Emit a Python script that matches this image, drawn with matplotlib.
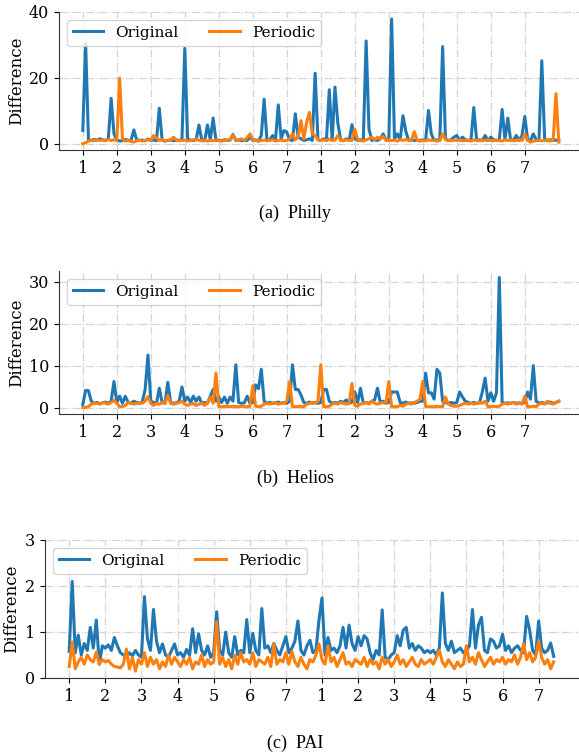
import numpy as np
import matplotlib
matplotlib.use("Agg")
import matplotlib.pyplot as plt

plt.rcParams['font.family'] = ['DejaVu Serif']

samples_per_day = 12
day_labels = ['1', '2', '3', '4', '5', '6', '7', '1', '2', '3', '4', '5', '6', '7']
series_names = ['Original', 'Periodic']
captions = ['(a)  Philly', '(b)  Helios', '(c)  PAI']

philly_original = [
    4.0, 30.5, 1.2, 1.0, 1.3, 1.1, 1.5, 1.2, 1.0, 1.5, 13.8, 3.0,
    1.2, 0.8, 1.0, 1.3, 1.1, 0.9, 4.2, 1.2, 1.0, 1.1, 0.9, 1.4,
    1.0, 1.2, 0.9, 10.8, 1.1, 0.8, 1.0, 1.2, 0.9, 1.1, 1.0, 1.3,
    29.0, 1.5, 1.1, 1.0, 1.2, 5.7, 1.0, 0.9, 5.7, 1.2, 7.8, 1.0,
    1.1, 0.9, 1.2, 1.0, 1.1, 2.8, 1.0, 1.2, 0.9, 1.1, 1.0, 2.0,
    1.0, 1.2, 0.8, 2.5, 13.5, 1.0, 1.2, 2.5, 1.0, 11.8, 1.5, 4.0,
    3.5, 1.2, 1.0, 9.1, 2.0, 1.5, 1.0, 1.2, 1.5, 1.0, 21.4, 1.2,
    1.0, 1.5, 1.2, 16.4, 1.0, 17.2, 6.3, 1.2, 1.0, 1.5, 1.0, 5.8,
    1.5, 1.0, 1.2, 1.0, 31.2, 4.5, 1.0, 1.2, 1.0, 1.5, 3.0, 1.2,
    1.0, 37.9, 1.5, 3.0, 1.2, 8.5, 3.8, 1.0, 1.2, 1.0, 1.1, 1.0,
    1.2, 1.0, 10.1, 3.0, 1.0, 1.2, 1.0, 29.5, 1.5, 1.0, 1.2, 2.0,
    2.5, 1.0, 2.0, 1.2, 1.0, 1.1, 11.0, 1.0, 1.2, 1.0, 2.5, 1.0,
    2.0, 1.2, 1.0, 1.1, 10.4, 1.2, 7.8, 1.0, 1.2, 2.5, 1.0, 2.5,
    8.3, 1.2, 1.0, 3.0, 1.2, 1.0, 25.2, 1.5, 1.0, 1.2, 1.0, 1.1,
    1.0]
philly_periodic = [
    0.0, 0.3, 0.8, 1.0, 0.9, 1.2, 1.0, 1.1, 0.9, 1.3, 1.0, 1.2,
    1.0, 19.9, 1.5, 0.8, 1.0, 0.7, 0.5, 0.9, 1.1, 0.8, 1.0, 1.2,
    1.0, 2.5, 1.8, 1.0, 1.2, 0.9, 1.0, 1.1, 2.0, 1.2, 0.9, 1.0,
    1.1, 0.8, 1.0, 1.2, 1.5, 1.0, 0.9, 1.1, 0.8, 1.0, 0.9, 1.2,
    1.0, 0.8, 1.0, 1.1, 1.3, 2.5, 1.2, 1.0, 1.5, 1.0, 1.8, 3.0,
    1.2, 1.0, 0.8, 1.0, 1.1, 0.9, 1.0, 1.2, 0.8, 1.0, 1.1, 0.9,
    1.0, 1.5, 3.0, 1.2, 2.0, 7.0, 1.5, 6.5, 9.5, 3.0, 2.5, 1.2,
    1.0, 1.2, 0.9, 1.5, 1.0, 1.1, 2.5, 1.0, 0.9, 1.2, 1.0, 1.0,
    4.4, 1.2, 1.0, 0.8, 1.2, 1.5, 2.0, 1.2, 2.0, 1.5, 2.2, 1.0,
    1.2, 1.0, 1.1, 0.8, 1.2, 1.0, 1.3, 1.1, 1.0, 3.7, 1.0, 0.8,
    1.0, 0.9, 1.2, 1.0, 1.1, 0.8, 1.0, 3.0, 1.2, 1.0, 0.9, 1.1,
    1.0, 1.2, 0.9, 1.0, 1.1, 0.8, 1.2, 1.0, 0.9, 1.1, 1.0, 1.2,
    1.0, 0.9, 1.1, 1.0, 0.8, 1.2, 1.0, 1.1, 0.9, 1.0, 1.2, 1.0,
    3.0, 1.0, 0.5, 0.8, 1.0, 1.1, 0.9, 1.0, 1.2, 0.8, 1.0, 15.2,
    0.5]

helios_original = [
    0.7, 4.1, 4.0, 1.5, 1.0, 1.2, 0.9, 1.1, 1.3, 1.0, 1.5, 6.2,
    1.2, 2.7, 1.0, 2.7, 1.2, 1.0, 1.5, 1.2, 1.0, 1.3, 4.3, 12.5,
    1.5, 1.2, 1.0, 4.6, 1.2, 1.0, 6.0, 1.2, 1.0, 1.1, 1.5, 4.9,
    1.5, 2.5, 1.2, 2.7, 1.5, 2.5, 1.0, 1.2, 1.0, 2.7, 4.3, 1.5,
    2.5, 1.2, 2.5, 1.0, 2.5, 1.5, 10.2, 1.2, 1.0, 1.1, 2.7, 1.0,
    1.2, 5.4, 4.5, 9.1, 1.5, 1.0, 1.2, 1.0, 1.1, 1.3, 1.0, 1.2,
    1.0, 1.5, 10.2, 4.3, 4.3, 3.0, 1.2, 1.0, 1.3, 1.0, 1.2, 1.0,
    1.2, 4.3, 4.3, 1.5, 1.0, 1.2, 1.0, 1.5, 1.2, 1.8, 1.0, 1.3,
    3.7, 1.2, 4.6, 1.0, 1.2, 1.0, 1.5, 1.8, 4.6, 1.2, 1.5, 1.0,
    1.2, 3.7, 3.7, 3.7, 1.2, 1.0, 1.3, 1.0, 1.1, 1.0, 1.2, 1.5,
    1.5, 8.2, 3.5, 3.5, 2.0, 9.1, 8.2, 1.5, 1.2, 1.0, 1.2, 1.0,
    1.2, 3.7, 2.5, 1.5, 1.2, 1.0, 1.2, 1.0, 1.1, 3.7, 7.0, 1.5,
    3.5, 1.5, 3.5, 31.0, 1.2, 1.0, 1.1, 1.0, 1.2, 1.0, 1.1, 1.0,
    1.2, 3.7, 2.0, 10.0, 1.5, 1.0, 1.2, 1.0, 1.1, 1.3, 1.0, 1.2,
    1.5]
helios_periodic = [
    0.0, 0.0, 0.2, 0.8, 1.0, 1.0, 0.8, 1.2, 1.0, 0.8, 1.2, 1.7,
    1.0, 0.2, 0.2, 0.5, 1.2, 1.0, 0.8, 1.0, 1.2, 1.0, 1.5, 2.6,
    1.0, 0.5, 1.0, 0.8, 1.2, 1.0, 2.8, 1.0, 0.8, 1.0, 1.2, 1.5,
    0.8, 0.5, 0.8, 1.0, 0.5, 0.8, 1.0, 0.5, 1.2, 2.5, 1.0, 8.2,
    0.2, 0.2, 0.3, 0.2, 0.2, 0.3, 0.2, 0.2, 0.3, 0.2, 0.2, 0.3,
    5.2, 0.3, 0.2, 0.3, 0.8, 1.0, 0.8, 1.0, 1.2, 0.8, 1.0, 1.0,
    1.5, 6.2, 0.2, 0.2, 0.2, 0.3, 0.2, 0.8, 1.0, 1.2, 1.0, 1.5,
    10.2, 0.2, 0.2, 0.3, 0.8, 1.0, 0.8, 1.2, 1.0, 0.8, 1.0, 5.7,
    0.5, 0.3, 0.8, 1.0, 1.2, 0.8, 1.5, 1.0, 0.8, 1.0, 1.2, 1.0,
    6.2, 0.2, 0.2, 0.2, 0.5, 0.3, 0.8, 1.0, 0.8, 1.2, 1.5, 2.0,
    6.2, 0.2, 0.2, 0.2, 0.2, 0.3, 0.2, 0.2, 2.5, 0.8, 0.5, 0.3,
    0.3, 0.5, 0.8, 1.0, 0.8, 1.0, 0.8, 1.0, 1.2, 1.0, 1.5, 0.2,
    0.2, 0.3, 0.2, 0.3, 0.8, 1.0, 0.8, 1.0, 1.2, 0.8, 1.0, 0.8,
    2.7, 0.2, 0.2, 0.3, 0.2, 0.8, 1.0, 0.8, 1.5, 1.0, 0.8, 1.2,
    1.5]

pai_original = [
    0.58, 2.10, 0.55, 0.93, 0.50, 0.75, 0.60, 1.10, 0.65, 1.26, 0.30, 0.70,
    0.65, 0.72, 0.60, 0.88, 0.70, 0.55, 0.50, 0.45, 0.55, 0.48, 0.60, 0.50,
    0.45, 1.77, 0.85, 0.60, 1.49, 0.80, 0.55, 0.74, 0.50, 0.45, 0.60, 0.74,
    0.50, 0.55, 0.45, 0.62, 0.50, 1.07, 0.55, 0.96, 0.60, 0.50, 0.70, 0.45,
    0.55, 1.44, 0.60, 0.50, 1.00, 0.55, 0.45, 0.90, 0.50, 0.60, 0.55, 1.27,
    0.55, 0.97, 0.60, 0.50, 1.51, 0.65, 0.70, 0.55, 0.75, 0.60, 0.50, 0.70,
    0.90, 0.55, 0.65, 0.80, 1.24, 0.60, 0.50, 0.70, 0.82, 0.55, 0.60, 1.26,
    1.74, 0.50, 0.88, 0.60, 0.65, 0.55, 0.70, 1.10, 0.65, 1.15, 0.75, 0.60,
    0.90, 0.70, 0.92, 0.85, 0.55, 0.40, 0.60, 0.50, 1.48, 0.45, 0.40, 0.50,
    0.55, 0.92, 0.70, 1.04, 1.10, 0.65, 0.75, 0.60, 0.70, 0.65, 0.55, 0.60,
    0.55, 0.60, 0.50, 0.65, 1.85, 0.75, 0.60, 0.80, 0.55, 0.60, 0.65, 0.55,
    0.60, 0.70, 1.49, 0.65, 1.15, 1.32, 0.60, 0.55, 0.85, 0.80, 0.65, 0.70,
    0.95, 0.60, 0.70, 0.55, 0.65, 0.70, 0.60, 0.55, 1.34, 1.05, 0.60, 0.50,
    1.24, 0.65, 0.55, 0.60, 0.76, 0.47]
pai_periodic = [
    0.25, 0.78, 0.20, 0.35, 0.45, 0.30, 0.50, 0.40, 0.35, 0.56, 0.30, 0.40,
    0.35, 0.38, 0.30, 0.25, 0.24, 0.22, 0.30, 0.63, 0.20, 0.45, 0.15, 0.40,
    0.30, 0.55, 0.25, 0.45, 0.30, 0.40, 0.20, 0.35, 0.25, 0.50, 0.30, 0.45,
    0.35, 0.25, 0.40, 0.30, 0.45, 0.20, 0.35, 0.30, 0.50, 0.25, 0.40, 0.30,
    0.35, 1.22, 0.30, 0.45, 0.25, 0.40, 0.20, 0.50, 0.30, 0.55, 0.35, 0.40,
    0.30, 0.55, 0.25, 0.40, 0.35, 0.30, 0.45, 0.25, 0.74, 0.30, 0.40, 0.35,
    0.55, 0.30, 0.58, 0.35, 0.25, 0.45, 0.30, 0.20, 0.40, 0.35, 0.50, 0.74,
    0.40, 0.30, 0.70, 0.35, 0.45, 0.25, 0.40, 0.55, 0.30, 0.35, 0.25, 0.40,
    0.35, 0.30, 0.45, 0.25, 0.40, 0.30, 0.35, 0.20, 0.45, 0.30, 0.40, 0.25,
    0.35, 0.50, 0.30, 0.40, 0.25, 0.35, 0.45, 0.30, 0.25, 0.40, 0.30, 0.35,
    0.40, 0.30, 0.45, 0.60, 0.35, 0.25, 0.40, 0.30, 0.20, 0.35, 0.25, 0.30,
    0.70, 0.35, 0.45, 0.30, 0.55, 0.40, 0.25, 0.35, 0.45, 0.30, 0.40, 0.35,
    0.45, 0.30, 0.40, 0.35, 0.50, 0.30, 0.45, 0.75, 0.40, 0.55, 0.35, 0.45,
    0.80, 0.45, 0.30, 0.40, 0.20, 0.35]

panels = [
    (philly_original, philly_periodic, [0, 20, 40], (-1.9, 40)),
    (helios_original, helios_periodic, [0, 10, 20, 30], None),
    (pai_original, pai_periodic, [0, 1, 2, 3], (0, 3)),
]

fig = plt.figure(figsize=(5.79, 7.55), dpi=100)
W, H = 579.0, 755.0
# axes boxes in pixels: left, top, width, bottom
boxes = [(59, 12, 523.6, 150), (59, 271, 523.6, 414), (45, 540, 532.9, 678)]
label_x = [-0.064, -0.064, -0.046]
caption_y = [213, 478, 743]
colors = ['#1f77b4', '#ff7f0e']

for (orig, peri, yticks, ylim), (l, t, w, b), lx, cy, cap in zip(panels, boxes, label_x, caption_y, captions):
    ax = fig.add_axes([l / W, 1 - b / H, w / W, (b - t) / H])
    x_o = np.arange(len(orig)) / samples_per_day
    x_p = np.arange(len(peri)) / samples_per_day
    ax.plot(x_o, orig, color=colors[0], lw=2.2, label=series_names[0])
    ax.plot(x_p, peri, color=colors[1], lw=2.2, label=series_names[1])
    ax.set_xticks(np.arange(len(day_labels)))
    ax.set_xticklabels(day_labels, fontsize=11.5)
    ax.set_yticks(yticks)
    ax.tick_params(axis='y', labelsize=11.5)
    if ylim is not None:
        ax.set_ylim(*ylim)
    ax.set_ylabel('Difference', fontsize=12)
    ax.yaxis.set_label_coords(lx, 0.5)
    ax.grid(True, linestyle='-.', color='#d4d4d4', lw=0.9)
    ax.set_axisbelow(True)
    for s in ['top', 'right']:
        ax.spines[s].set_visible(False)
    ax.spines['left'].set_color('#333333')
    ax.spines['bottom'].set_color('#333333')
    ax.legend(loc='upper left', ncol=2, fontsize=11, frameon=True,
              edgecolor='#cccccc', framealpha=0.8)
    fig.text(0.51, 1 - cy / H, cap, ha='center', va='center',
             family='Liberation Serif', fontsize=13)

fig.savefig('out.png', dpi=100)
